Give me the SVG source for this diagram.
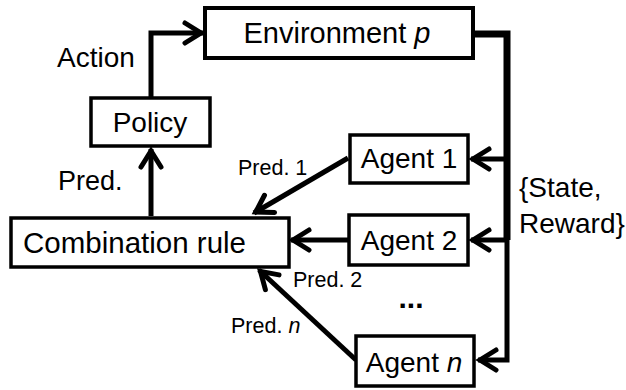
<svg xmlns="http://www.w3.org/2000/svg" width="626" height="390" viewBox="0 0 626 390">
<defs>
<style>
.box{fill:#fff;stroke:#000;stroke-width:3.5}
.t{font-family:"Liberation Sans",Arial,sans-serif;fill:#000}
.big{font-size:28px}
.sm{font-size:21.5px}
.c{fill:none;stroke:#000;stroke-width:5}
</style>
<marker id="ah" markerUnits="userSpaceOnUse" viewBox="-24 -14 28 28" refX="0" refY="0" markerWidth="28" markerHeight="28" orient="auto">
<path d="M-18 -10 L-2 0 L-18 10" fill="none" stroke="#000" stroke-width="5" stroke-linecap="round" stroke-linejoin="miter"/>
</marker>
</defs>
<g id="connectors">
<path class="c" d="M151 98 V33 H203" marker-end="url(#ah)"/>
<path class="c" d="M151 216 V149" marker-end="url(#ah)"/>
<path class="c" d="M348 158 L254 213" marker-end="url(#ah)"/>
<path class="c" d="M349 240 L291 240" marker-end="url(#ah)"/>
<path class="c" d="M356 360 L259 270" marker-end="url(#ah)"/>
<path class="c" d="M474 34 H507 V240" style="stroke-width:7"/>
<path class="c" d="M507 236 V360 H478" marker-end="url(#ah)"/>
<path class="c" d="M507 159 H471" marker-end="url(#ah)"/>
<path class="c" d="M507 240 H471" marker-end="url(#ah)"/>
</g>
<g id="environment">
<rect class="box" x="205" y="8" width="268" height="50" style="stroke-width:4"/>
<text class="t big" x="337" y="43" text-anchor="middle" style="font-size:29px">Environment <tspan font-style="italic">p</tspan></text>
</g>
<g id="policy">
<rect class="box" x="91" y="98" width="119" height="48"/>
<text class="t big" x="150" y="132" text-anchor="middle">Policy</text>
</g>
<g id="combination">
<rect class="box" x="11" y="218" width="278" height="49"/>
<text class="t big" x="23" y="253" style="font-size:29.5px">Combination rule</text>
</g>
<g id="agent1">
<rect class="box" x="350" y="135" width="118" height="48"/>
<text class="t big" x="409" y="168" text-anchor="middle">Agent 1</text>
</g>
<g id="agent2">
<rect class="box" x="349" y="215" width="119" height="50"/>
<text class="t big" x="409" y="250" text-anchor="middle">Agent 2</text>
</g>
<g id="agentn">
<rect class="box" x="356" y="336" width="118" height="50"/>
<text class="t big" x="414" y="372" text-anchor="middle">Agent <tspan font-style="italic">n</tspan></text>
</g>
<g id="labels">
<text class="t big" x="57" y="67">Action</text>
<text class="t big" x="58" y="190" style="font-size:27px">Pred.</text>
<text class="t sm" x="238" y="175">Pred. 1</text>
<text class="t sm" x="293" y="287">Pred. 2</text>
<text class="t sm" x="231" y="333">Pred. <tspan font-style="italic">n</tspan></text>
<text class="t big" x="411" y="308" text-anchor="middle" font-weight="bold" style="font-size:30px">...</text>
<text class="t big" x="519" y="197">{State,</text>
<text class="t big" x="519" y="233">Reward}</text>
</g>
</svg>
